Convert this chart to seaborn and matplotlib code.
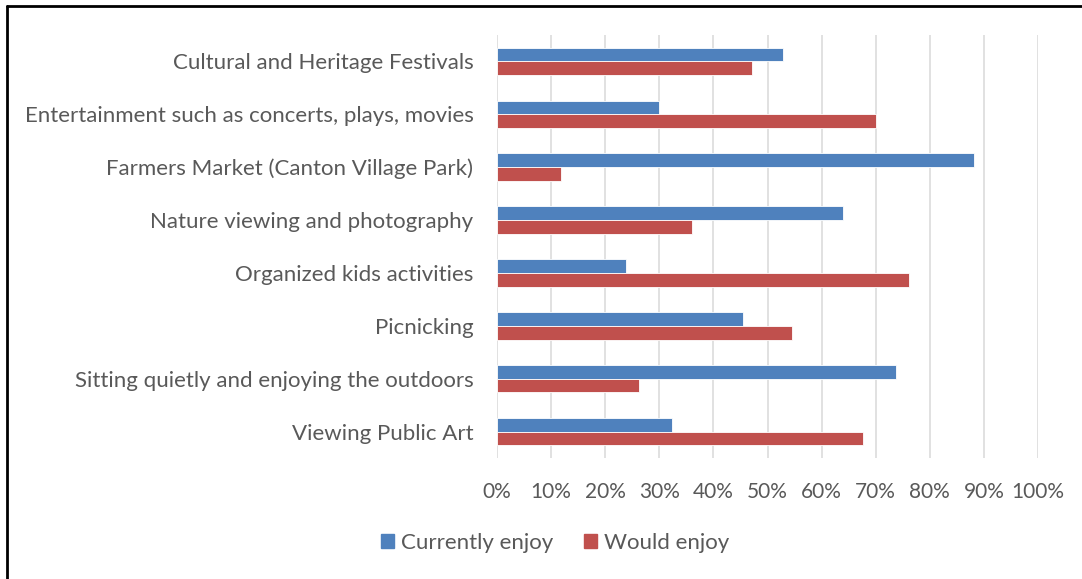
import matplotlib.pyplot as plt
import pandas as pd
import seaborn as sns
from matplotlib.lines import Line2D
from matplotlib.ticker import PercentFormatter

# Data (in percent)
activities = [
    'Cultural and Heritage Festivals',
    'Entertainment such as concerts, plays, movies',
    'Farmers Market (Canton Village Park)',
    'Nature viewing and photography',
    'Organized kids activities',
    'Picnicking',
    'Sitting quietly and enjoying the outdoors',
    'Viewing Public Art',
]
currently_enjoy = [52.8, 30.0, 88.2, 63.9, 23.9, 45.4, 73.8, 32.4]
would_enjoy = [47.2, 70.0, 11.8, 36.1, 76.1, 54.6, 26.2, 67.6]
series_names = ['Currently enjoy', 'Would enjoy']
x_ticks = [0, 10, 20, 30, 40, 50, 60, 70, 80, 90, 100]

# Style
W, H, dpi = 1082, 579, 100
text_color = '#595959'
grid_color = '#D9D9D9'
palette = {'Currently enjoy': '#4F81BD', 'Would enjoy': '#C0504D'}

sns.set_theme(style='white')
plt.rcParams['font.family'] = ['Lato', 'DejaVu Sans']

df = pd.DataFrame({
    'Activity': activities * 2,
    'Series': [series_names[0]] * len(activities) + [series_names[1]] * len(activities),
    'Percent': currently_enjoy + would_enjoy,
})

fig = plt.figure(figsize=(W / dpi, H / dpi), dpi=dpi)
ax = fig.add_axes([497 / W, 1 - 458 / H, 541 / W, 423 / H])

sns.barplot(data=df, y='Activity', x='Percent', hue='Series', orient='h',
            order=activities, hue_order=series_names, palette=palette,
            width=0.52, gap=0, saturation=1, edgecolor='white', linewidth=0.6,
            errorbar=None, ax=ax)

ax.set_xlim(0, 100)
ax.set_ylim(len(activities) - 0.5, -0.5)
ax.set_xticks(x_ticks)
ax.xaxis.set_major_formatter(PercentFormatter(decimals=0))
ax.grid(axis='x', color=grid_color, linewidth=1.1)
ax.set_axisbelow(True)
for s in ax.spines.values():
    s.set_visible(False)
ax.set_xlabel('')
ax.set_ylabel('')
ax.tick_params(axis='y', length=0, pad=17, labelsize=16, labelcolor=text_color)
ax.tick_params(axis='x', length=0, pad=17, labelsize=15, labelcolor=text_color)

# Legend below the plot
ax.get_legend().remove()
handles = [plt.Rectangle((0, 0), 1, 1, color=palette[n]) for n in series_names]
fig.legend(handles, series_names, loc='center', bbox_to_anchor=(555 / W, 1 - 543 / H),
           ncol=2, frameon=False, fontsize=16, labelcolor=text_color,
           handlelength=0.6, handleheight=0.6, handletextpad=0.3, columnspacing=1.4)

# Outer border (cropped on the right and bottom)
fig.add_artist(Line2D([7 / W, 7 / W], [0, 1 - 6 / H], color='black', linewidth=2))
fig.add_artist(Line2D([7 / W, 1], [1 - 6 / H, 1 - 6 / H], color='black', linewidth=2))

fig.savefig('out.png', dpi=dpi)
